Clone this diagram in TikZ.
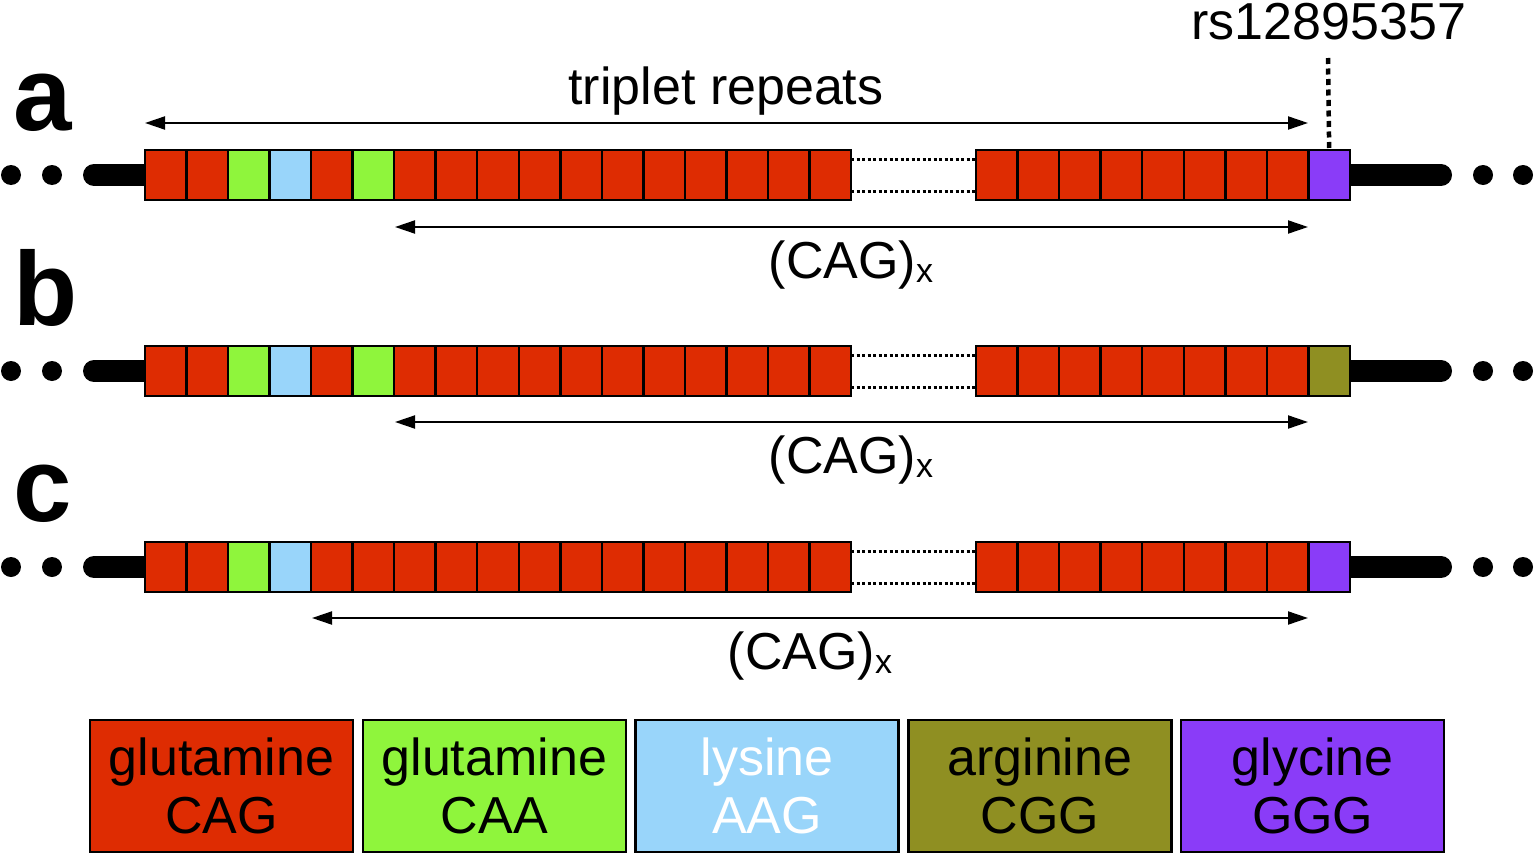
\documentclass[tikz,border=0pt]{standalone}
\usepackage{fontspec}
\setmainfont{Liberation Sans}
\usetikzlibrary{arrows.meta,backgrounds}
\definecolor{cagred}{RGB}{222,44,2}
\definecolor{caagreen}{RGB}{143,245,60}
\definecolor{aagblue}{RGB}{153,213,250}
\definecolor{cggolive}{RGB}{143,143,34}
\definecolor{gggpurple}{RGB}{138,60,248}
\tikzset{
  cell/.style={draw=black,line width=2.5pt,minimum width=41.53pt,minimum height=50pt,inner sep=0pt,outer sep=0pt},
  legbox/.style={draw=black,line width=2.5pt,minimum width=263pt,minimum height=132pt,inner sep=0pt,align=center,font=\fontsize{52}{58}\selectfont},
  bar/.style={line width=22pt,line cap=round},
  gapline/.style={line width=3pt,dash pattern=on 3pt off 2.5pt},
  snpline/.style={line width=4.5pt,dash pattern=on 6pt off 4.5pt},
  span/.style={line width=2pt,{Triangle[length=20pt,width=13pt]}-{Triangle[length=20pt,width=13pt]}},
  lbl/.style={font=\fontsize{52}{58}\selectfont,inner sep=0pt,anchor=base},
  rowlbl/.style={font=\fontsize{105}{110}\selectfont\bfseries,inner sep=0pt,anchor=base west},
  dot/.style={fill=black,circle,minimum size=20pt,inner sep=0pt}
}
\newcommand{\cagx}{(CAG)\raisebox{-4pt}{\fontsize{34}{34}\selectfont x}}
\begin{document}
\begin{tikzpicture}[x=1pt,y=-1pt]
\useasboundingbox (0,0) rectangle (1536,856);
% ---------- rows ----------
\foreach \r/\yc/\colsA/\last in {
  a/175/{cagred,cagred,caagreen,aagblue,cagred,caagreen,cagred,cagred,cagred,cagred,cagred,cagred,cagred,cagred,cagred,cagred,cagred}/gggpurple,
  b/371/{cagred,cagred,caagreen,aagblue,cagred,caagreen,cagred,cagred,cagred,cagred,cagred,cagred,cagred,cagred,cagred,cagred,cagred}/cggolive,
  c/567/{cagred,cagred,caagreen,aagblue,cagred,cagred,cagred,cagred,cagred,cagred,cagred,cagred,cagred,cagred,cagred,cagred,cagred}/gggpurple}{
  % left end
  \node[dot] (\r dl1) at (11,\yc) {};
  \node[dot] (\r dl2) at (52,\yc) {};
  \coordinate (\r bl) at (94,\yc);
  % first segment
  \foreach \c [count=\i] in \colsA {
    \node[cell,fill=\c] (\r s\i) at ({145+41.53*(\i-0.5)},\yc) {};
  }
  % second segment
  \foreach \i in {1,...,8} {
    \node[cell,fill=cagred] (\r t\i) at ({976+41.55*(\i-0.5)},\yc) {};
  }
  \node[cell,fill=\last] (\r t9) at ({976+41.55*8.5},\yc) {};
  % bars (behind the cells)
  \coordinate (\r br) at (1441,\yc);
  \begin{pgfonlayer}{background}
    \draw[bar] (\r bl) -- (\r s1.center);
    \draw[bar] (\r t9.center) -- (\r br);
  \end{pgfonlayer}
  \node[dot] (\r dr1) at (1483,\yc) {};
  \node[dot] (\r dr2) at (1523,\yc) {};
  % gap dotted lines
  \draw[gapline] ([yshift=-9pt]\r s17.north east) -- ([yshift=-9pt]\r t1.north west);
  \draw[gapline] ([yshift=9pt]\r s17.south east) -- ([yshift=9pt]\r t1.south west);
}
% row labels
\node[rowlbl] (la) at (13,131) {a};
\node[rowlbl] (lb) at (13,325) {b};
\node[rowlbl] (lc) at (13,521) {c};
% triplet repeats
\coordinate (trL) at (145,123);
\coordinate (trR) at (1308,123);
\draw[span] (trL) -- (trR);
\node[lbl] (trt) at (726,105) {triplet repeats};
% SNP
\node[lbl] (snp) at (1329,40) {rs12895357};
\coordinate (snptop) at (1328,58);
\draw[snpline] (snptop) -- (at9.north);
% CAG arrows
\coordinate (caL) at (395,227); \coordinate (caR) at (1308,227);
\draw[span] (caL) -- (caR);
\node[lbl] (cat) at (851,278) {\cagx};
\coordinate (cbL) at (395,422); \coordinate (cbR) at (1308,422);
\draw[span] (cbL) -- (cbR);
\node[lbl] (cbt) at (851,473) {\cagx};
\coordinate (ccL) at (312,618); \coordinate (ccR) at (1308,618);
\draw[span] (ccL) -- (ccR);
\node[lbl] (cct) at (810,669) {\cagx};
% legend
\node[legbox,fill=cagred] (g1) at (221.5,786) {glutamine\\CAG};
\node[legbox,fill=caagreen] (g2) at (494.3,786) {glutamine\\CAA};
\node[legbox,fill=aagblue,text=white] (g3) at (767.1,786) {lysine\\AAG};
\node[legbox,fill=cggolive] (g4) at (1039.9,786) {arginine\\CGG};
\node[legbox,fill=gggpurple] (g5) at (1312.7,786) {glycine\\GGG};
\end{tikzpicture}
\end{document}
